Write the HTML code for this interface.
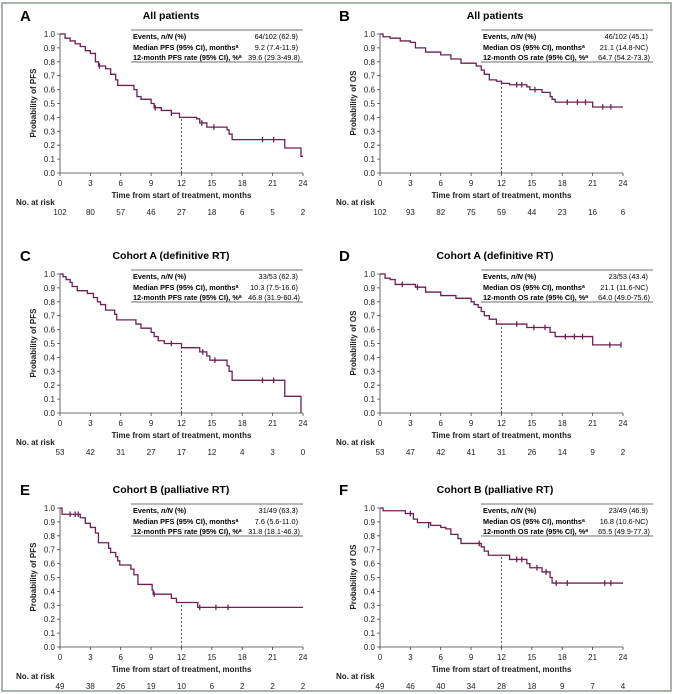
<!DOCTYPE html>
<html><head><meta charset="utf-8"><style>
html,body{margin:0;padding:0;background:#fff}
svg{display:block;font-family:"Liberation Sans",Arial,sans-serif}
.t{font-size:8px;fill:#222}
.b{font-weight:bold}
.c{fill:none;stroke:#6e2150;stroke-width:1.3;vector-effect:non-scaling-stroke}
.ax{stroke:#444;stroke-width:0.8;fill:none}
</style></head><body>
<svg width="675" height="694" viewBox="0 0 675 694">
<rect x="2" y="3" width="669" height="688" fill="none" stroke="#8a9b8a" stroke-width="1.5"/>
<defs>
<g id="axes">
<path class="ax" d="M0,-139V0H243M-3,0H0M-3,-13.9H0M-3,-27.8H0M-3,-41.7H0M-3,-55.6H0M-3,-69.5H0M-3,-83.4H0M-3,-97.3H0M-3,-111.2H0M-3,-125.1H0M-3,-139H0M0,0V3M30.4,0V3M60.75,0V3M91.1,0V3M121.5,0V3M151.9,0V3M182.25,0V3M212.6,0V3M243,0V3"/>
<g class="t" text-anchor="end">
<text x="-5" y="3">0.0</text><text x="-5" y="-10.9">0.1</text><text x="-5" y="-24.8">0.2</text><text x="-5" y="-38.7">0.3</text><text x="-5" y="-52.6">0.4</text><text x="-5" y="-66.5">0.5</text><text x="-5" y="-80.4">0.6</text><text x="-5" y="-94.3">0.7</text><text x="-5" y="-108.2">0.8</text><text x="-5" y="-122.1">0.9</text><text x="-5" y="-136">1.0</text>
</g>
<g class="t" text-anchor="middle">
<text x="0" y="13">0</text><text x="30.4" y="13">3</text><text x="60.75" y="13">6</text><text x="91.1" y="13">9</text><text x="121.5" y="13">12</text><text x="151.9" y="13">15</text><text x="182.25" y="13">18</text><text x="212.6" y="13">21</text><text x="243" y="13">24</text>
<text x="121.5" y="25" class="b">Time from start of treatment, months</text>
</g>
<text x="-44" y="32" class="t b">No. at risk</text>
</g>
</defs>

<!-- A -->
<g transform="translate(60,173)">
<use href="#axes"/>
<text x="-40" y="-152" font-size="15" font-weight="bold">A</text>
<text x="111" y="-154" font-size="10.5" font-weight="bold" text-anchor="middle">All patients</text>
<text transform="translate(-24,-70) rotate(-90)" class="t b" text-anchor="middle">Probability of PFS</text>
<path class="ax" d="M71,-143H243M71,-111H243"/>
<g font-size="7.3"><text x="73" y="-134" font-weight="bold">Events, <tspan font-style="italic">n/N</tspan> (%)</text><text x="73" y="-123" font-weight="bold">Median PFS (95% CI), months<tspan font-size="5" dy="-2">a</tspan></text><text x="73" y="-113" font-weight="bold">12-month PFS rate (95% CI), %<tspan font-size="5" dy="-2">a</tspan></text>
<g text-anchor="end"><text x="238" y="-134">64/102 (62.9)</text><text x="238" y="-123">9.2 (7.4-11.9)</text><text x="240" y="-113">39.6 (29.3-49.8)</text></g></g>
<path d="M121.5,0V-55" stroke="#333" stroke-width="0.8" stroke-dasharray="2,2"/>
<g transform="scale(10.125,-139)"><path class="c" d="M0,1H0.5V0.97H1V0.95H1.5V0.93H2V0.91H2.5V0.88H3V0.86H3.5V0.8H3.8V0.77H4.5V0.75H5V0.71H5.5V0.67H5.7V0.63H7.3V0.6H7.6V0.55H8V0.53H9V0.5H9.3V0.47H10V0.45H11V0.43H11.8V0.4H13.5V0.39H13.8V0.36H14.5V0.33H16.5V0.31H16.7V0.28H17V0.24H22.2V0.18H23.8V0.12H24M3.9,0.75V0.79M9.4,0.45V0.49M11,0.41V0.45M14,0.34V0.38M15.2,0.31V0.35M20,0.22V0.26M21.1,0.22V0.26"/></g>
<g class="t" text-anchor="middle"><text x="0" y="42">102</text><text x="30.4" y="42">80</text><text x="60.75" y="42">57</text><text x="91.1" y="42">46</text><text x="121.5" y="42">27</text><text x="151.9" y="42">18</text><text x="182.25" y="42">6</text><text x="212.6" y="42">5</text><text x="243" y="42">2</text></g>
</g>

<!-- B -->
<g transform="translate(380,173)">
<use href="#axes"/>
<text x="-41" y="-152" font-size="15" font-weight="bold">B</text>
<text x="115" y="-154" font-size="10.5" font-weight="bold" text-anchor="middle">All patients</text>
<text transform="translate(-24,-70) rotate(-90)" class="t b" text-anchor="middle">Probability of OS</text>
<path class="ax" d="M101,-143H273M101,-111H273"/>
<g font-size="7.3"><text x="103" y="-134" font-weight="bold">Events, <tspan font-style="italic">n/N</tspan> (%)</text><text x="103" y="-123" font-weight="bold">Median OS (95% CI), months<tspan font-size="5" dy="-2">a</tspan></text><text x="103" y="-113" font-weight="bold">12-month OS rate (95% CI), %<tspan font-size="5" dy="-2">a</tspan></text>
<g text-anchor="end"><text x="268" y="-134">46/102 (45.1)</text><text x="268" y="-123">21.1 (14.8-NC)</text><text x="270" y="-113">64.7 (54.2-73.3)</text></g></g>
<path d="M121.5,0V-90" stroke="#333" stroke-width="0.8" stroke-dasharray="2,2"/>
<g transform="scale(10.125,-139)"><path class="c" d="M0,1H0.3V0.98H1V0.97H2V0.95H3V0.94H3.5V0.9H4.5V0.87H6V0.85H7V0.82H8V0.79H9.5V0.77H10V0.74H10.3V0.71H10.8V0.67H11.5V0.66H12V0.645H12.8V0.635H14.5V0.62H14.8V0.6H16V0.58H16.8V0.55H17V0.53H17.3V0.51H21V0.475H24M13.5,0.615V0.655M14,0.615V0.655M15.3,0.58V0.62M18.5,0.49V0.53M19.5,0.49V0.53M20.3,0.49V0.53M22,0.455V0.495M22.8,0.455V0.495"/></g>
<g class="t" text-anchor="middle"><text x="0" y="42">102</text><text x="30.4" y="42">93</text><text x="60.75" y="42">82</text><text x="91.1" y="42">75</text><text x="121.5" y="42">59</text><text x="151.9" y="42">44</text><text x="182.25" y="42">23</text><text x="212.6" y="42">16</text><text x="243" y="42">6</text></g>
</g>

<!-- C -->
<g transform="translate(60,413)">
<use href="#axes"/>
<text x="-40" y="-152" font-size="15" font-weight="bold">C</text>
<text x="111" y="-154" font-size="10.5" font-weight="bold" text-anchor="middle">Cohort A (definitive RT)</text>
<text transform="translate(-24,-70) rotate(-90)" class="t b" text-anchor="middle">Probability of PFS</text>
<path class="ax" d="M71,-143H243M71,-111H243"/>
<g font-size="7.3"><text x="73" y="-134" font-weight="bold">Events, <tspan font-style="italic">n/N</tspan> (%)</text><text x="73" y="-123" font-weight="bold">Median PFS (95% CI), months<tspan font-size="5" dy="-2">a</tspan></text><text x="73" y="-113" font-weight="bold">12-month PFS rate (95% CI), %<tspan font-size="5" dy="-2">a</tspan></text>
<g text-anchor="end"><text x="238" y="-134">33/53 (62.3)</text><text x="238" y="-123">10.3 (7.5-16.6)</text><text x="240" y="-113">46.8 (31.9-60.4)</text></g></g>
<path d="M121.5,0V-65" stroke="#333" stroke-width="0.8" stroke-dasharray="2,2"/>
<g transform="scale(10.125,-139)"><path class="c" d="M0,1H0.3V0.98H0.6V0.96H1V0.94H1.2V0.91H1.7V0.88H2.7V0.86H3.3V0.83H3.7V0.8H4V0.78H4.5V0.74H5.4V0.71H5.6V0.67H7.5V0.64H8V0.61H9V0.58H9.3V0.55H9.7V0.52H10.3V0.5H12V0.47H13.8V0.44H14.5V0.41H14.8V0.38H16.5V0.34H16.7V0.3H17V0.235H22.2V0.12H23.8V0M11,0.48V0.52M14.1,0.42V0.46M15.3,0.36V0.4M20,0.215V0.255M21.1,0.215V0.255"/></g>
<g class="t" text-anchor="middle"><text x="0" y="42">53</text><text x="30.4" y="42">42</text><text x="60.75" y="42">31</text><text x="91.1" y="42">27</text><text x="121.5" y="42">17</text><text x="151.9" y="42">12</text><text x="182.25" y="42">4</text><text x="212.6" y="42">3</text><text x="243" y="42">0</text></g>
</g>

<!-- D -->
<g transform="translate(380,413)">
<use href="#axes"/>
<text x="-41" y="-152" font-size="15" font-weight="bold">D</text>
<text x="115" y="-154" font-size="10.5" font-weight="bold" text-anchor="middle">Cohort A (definitive RT)</text>
<text transform="translate(-24,-70) rotate(-90)" class="t b" text-anchor="middle">Probability of OS</text>
<path class="ax" d="M101,-143H273M101,-111H273"/>
<g font-size="7.3"><text x="103" y="-134" font-weight="bold">Events, <tspan font-style="italic">n/N</tspan> (%)</text><text x="103" y="-123" font-weight="bold">Median OS (95% CI), months<tspan font-size="5" dy="-2">a</tspan></text><text x="103" y="-113" font-weight="bold">12-month OS rate (95% CI), %<tspan font-size="5" dy="-2">a</tspan></text>
<g text-anchor="end"><text x="268" y="-134">23/53 (43.4)</text><text x="268" y="-123">21.1 (11.6-NC)</text><text x="270" y="-113">64.0 (49.0-75.6)</text></g></g>
<path d="M121.5,0V-89" stroke="#333" stroke-width="0.8" stroke-dasharray="2,2"/>
<g transform="scale(10.125,-139)"><path class="c" d="M0,1H0.5V0.97H1V0.96H1.5V0.925H3.5V0.905H4.5V0.87H6V0.845H7.5V0.825H9V0.8H9.3V0.78H9.7V0.76H10V0.73H10.3V0.7H10.8V0.675H11.5V0.64H14.5V0.615H16.8V0.58H17.3V0.55H21V0.49H23.8M2.2,0.905V0.945M3.7,0.885V0.925M13.5,0.62V0.66M15.2,0.595V0.635M16.3,0.595V0.635M18.3,0.53V0.57M19.2,0.53V0.57M20,0.53V0.57M22.7,0.47V0.51M23.8,0.47V0.51"/></g>
<g class="t" text-anchor="middle"><text x="0" y="42">53</text><text x="30.4" y="42">47</text><text x="60.75" y="42">42</text><text x="91.1" y="42">41</text><text x="121.5" y="42">31</text><text x="151.9" y="42">26</text><text x="182.25" y="42">14</text><text x="212.6" y="42">9</text><text x="243" y="42">2</text></g>
</g>

<!-- E -->
<g transform="translate(60,647)">
<use href="#axes"/>
<text x="-40" y="-152" font-size="15" font-weight="bold">E</text>
<text x="111" y="-154" font-size="10.5" font-weight="bold" text-anchor="middle">Cohort B (palliative RT)</text>
<text transform="translate(-24,-70) rotate(-90)" class="t b" text-anchor="middle">Probability of PFS</text>
<path class="ax" d="M71,-143H243M71,-111H243"/>
<g font-size="7.3"><text x="73" y="-134" font-weight="bold">Events, <tspan font-style="italic">n/N</tspan> (%)</text><text x="73" y="-123" font-weight="bold">Median PFS (95% CI), months<tspan font-size="5" dy="-2">a</tspan></text><text x="73" y="-113" font-weight="bold">12-month PFS rate (95% CI), %<tspan font-size="5" dy="-2">a</tspan></text>
<g text-anchor="end"><text x="238" y="-134">31/49 (63.3)</text><text x="238" y="-123">7.6 (5.6-11.0)</text><text x="240" y="-113">31.8 (18.1-46.3)</text></g></g>
<path d="M121.5,0V-44" stroke="#333" stroke-width="0.8" stroke-dasharray="2,2"/>
<g transform="scale(10.125,-139)"><path class="c" d="M0,1H0.2V0.955H2V0.93H2.5V0.89H3V0.86H3.5V0.82H3.8V0.75H4.8V0.71H5V0.68H5.5V0.65H5.7V0.62H5.9V0.59H7V0.56H7.3V0.52H7.7V0.45H9.1V0.41H9.2V0.38H11V0.35H11.5V0.32H13.6V0.285H24M1,0.935V0.975M1.5,0.935V0.975M1.8,0.935V0.975M9.3,0.36V0.4M13.8,0.265V0.305M15.4,0.265V0.305M16.6,0.265V0.305"/></g>
<g class="t" text-anchor="middle"><text x="0" y="42">49</text><text x="30.4" y="42">38</text><text x="60.75" y="42">26</text><text x="91.1" y="42">19</text><text x="121.5" y="42">10</text><text x="151.9" y="42">6</text><text x="182.25" y="42">2</text><text x="212.6" y="42">2</text><text x="243" y="42">2</text></g>
</g>

<!-- F -->
<g transform="translate(380,647)">
<use href="#axes"/>
<text x="-41" y="-152" font-size="15" font-weight="bold">F</text>
<text x="115" y="-154" font-size="10.5" font-weight="bold" text-anchor="middle">Cohort B (palliative RT)</text>
<text transform="translate(-24,-70) rotate(-90)" class="t b" text-anchor="middle">Probability of OS</text>
<path class="ax" d="M101,-143H273M101,-111H273"/>
<g font-size="7.3"><text x="103" y="-134" font-weight="bold">Events, <tspan font-style="italic">n/N</tspan> (%)</text><text x="103" y="-123" font-weight="bold">Median OS (95% CI), months<tspan font-size="5" dy="-2">a</tspan></text><text x="103" y="-113" font-weight="bold">12-month OS rate (95% CI), %<tspan font-size="5" dy="-2">a</tspan></text>
<g text-anchor="end"><text x="268" y="-134">23/49 (46.9)</text><text x="268" y="-123">16.8 (10.6-NC)</text><text x="270" y="-113">65.5 (49.9-77.3)</text></g></g>
<path d="M121.5,0V-91" stroke="#333" stroke-width="0.8" stroke-dasharray="2,2"/>
<g transform="scale(10.125,-139)"><path class="c" d="M0,1H0.3V0.98H2.5V0.96H3.3V0.92H3.7V0.895H5V0.875H6V0.86H6.5V0.85H7V0.81H7.7V0.78H8V0.745H10V0.72H10.3V0.69H10.7V0.66H12.8V0.63H14.5V0.6H14.8V0.57H16V0.54H16.8V0.5H17V0.46H24M3,0.94V0.98M4.8,0.855V0.895M9.8,0.725V0.765M13.5,0.61V0.65M14,0.61V0.65M15.5,0.55V0.59M16.4,0.52V0.56M17.4,0.44V0.48M18.5,0.44V0.48M22.2,0.44V0.48M22.8,0.44V0.48"/></g>
<g class="t" text-anchor="middle"><text x="0" y="42">49</text><text x="30.4" y="42">46</text><text x="60.75" y="42">40</text><text x="91.1" y="42">34</text><text x="121.5" y="42">28</text><text x="151.9" y="42">18</text><text x="182.25" y="42">9</text><text x="212.6" y="42">7</text><text x="243" y="42">4</text></g>
</g>
</svg>
</body></html>
